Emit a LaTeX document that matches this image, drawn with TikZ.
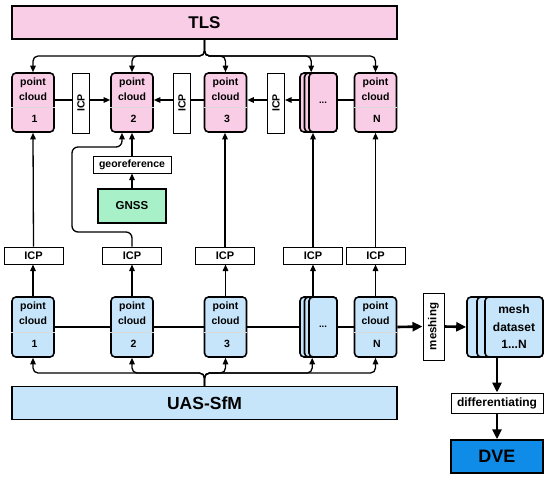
\documentclass[tikz,border=0pt]{standalone}
\usepackage{fontspec}
\setmainfont{Liberation Sans}
\usetikzlibrary{arrows.meta}
\definecolor{pcpink}{RGB}{249,205,230}
\definecolor{pcblue}{RGB}{199,229,250}
\definecolor{gnssgreen}{RGB}{168,240,200}
\definecolor{dveblue}{RGB}{14,140,232}
\tikzset{
  pcbox/.style={draw, line width=1.6pt, rounded corners=4pt, minimum width=42pt, minimum height=59pt, inner sep=0pt},
  stackbox/.style={draw, line width=1.6pt, rounded corners=4pt, minimum height=59pt, inner sep=0pt},
  pctext/.style={font=\fontsize{10.5}{15}\bfseries\selectfont, align=center, inner sep=0pt},
  divline/.style={draw=black!15, line width=1.2pt},
  icpv/.style={draw, line width=1pt, fill=white, minimum width=17pt, minimum height=60pt, inner sep=0pt},
  icph/.style={draw, line width=1pt, fill=white, minimum width=59pt, minimum height=17pt, inner sep=0pt, font=\fontsize{11}{12}\bfseries\selectfont},
  bigbox/.style={draw, line width=1.5pt, minimum width=385pt, minimum height=33pt, inner sep=0pt, font=\fontsize{17}{20}\bfseries\selectfont},
  conn/.style={line width=1.3pt},
  arr/.style={line width=1.3pt, -{Triangle[length=6.5pt,width=5.5pt]}},
  thickline/.style={line width=2.6pt},
  thickarr/.style={line width=2.6pt, -{Triangle[length=10pt,width=9pt]}}
}
\begin{document}
\begin{tikzpicture}[x=1pt,y=-1pt]
\useasboundingbox (0,0) rectangle (550,483);

% ---------- TLS ----------
\node[bigbox, fill=pcpink] (tls) at (204.5,22.5) {TLS};

% ---------- top row ----------
\foreach \n/\x/\lab in {T1/33/1, T2/132/2, T3/225.5/3, TN/375.5/N} {
  \node[pcbox, fill=pcpink] (pc\n) at (\x,102.5) {};
  \draw[divline] ([yshift=-35pt]pc\n.north west) -- ([yshift=-35pt]pc\n.north east);
  \node[pctext] (pc\n txt) at ([yshift=-17pt]pc\n.north) {point\\cloud};
  \node[pctext] (pc\n num) at ([yshift=-47pt,xshift=1.5pt]pc\n.north) {\lab};
}
\node[stackbox, fill=pcpink, minimum width=37pt] (stTback) at (318.5,102.5) {};
\node[stackbox, fill=pcpink, minimum width=32.5pt] (stTmid) at (320.75,102.5) {};
\node[stackbox, fill=pcpink, minimum width=28pt, font=\bfseries\fontsize{9.5}{10}\selectfont] (stTfront) at (323,102.5) {...};

\node[icpv] (icpA) at (81,103) {};
\node[rotate=90, font=\fontsize{10.5}{12}\bfseries\selectfont, inner sep=0pt] (icpAtxt) at (icpA.center) {ICP};
\node[icpv] (icpB) at (182,103) {};
\node[rotate=90, font=\fontsize{10.5}{12}\bfseries\selectfont, inner sep=0pt] (icpBtxt) at (icpB.center) {ICP};
\node[icpv] (icpC) at (276,103) {};
\node[rotate=90, font=\fontsize{10.5}{12}\bfseries\selectfont, inner sep=0pt] (icpCtxt) at (icpC.center) {ICP};

\draw[conn] (pcT1.east |- 0,100) -- (icpA.west |- 0,100);
\draw[arr] (icpA.east |- 0,100) -- (pcT2.west |- 0,100);
\draw[arr] (icpB.west |- 0,100) -- (pcT2.east |- 0,100);
\draw[conn] (pcT3.west |- 0,100) -- (icpB.east |- 0,100);
\draw[arr] (icpC.west |- 0,100) -- (pcT3.east |- 0,100);
\draw[arr] (stTback.west |- 0,100) -- (icpC.east |- 0,100);
\draw[conn] (pcTN.west |- 0,100) -- (stTfront.east |- 0,100);

% TLS branches
\foreach \t in {pcT1, pcT2, pcT3, pcTN} {
  \draw[arr, rounded corners=5pt] (tls.south) -- (tls.south |- 0,56) -- (\t.north |- 0,56) -- (\t.north);
}
\draw[arr, rounded corners=5pt] (tls.south) -- (tls.south |- 0,56) -- ([xshift=3pt]stTfront.north west |- 0,56) -- ([xshift=3pt]stTfront.north west);

% ---------- georeference / GNSS ----------
\node[draw, line width=1pt, fill=white, minimum width=78pt, minimum height=17pt, inner sep=0pt, font=\fontsize{10.5}{12}\bfseries\selectfont] (geo) at (132,164.5) {georeference};
\node[draw, line width=1.5pt, fill=gnssgreen, minimum width=68pt, minimum height=34pt, inner sep=0pt, font=\fontsize{11.5}{13}\bfseries\selectfont] (gnss) at (132,206) {GNSS};
\draw[arr] (gnss.north) -- (geo.south);
\draw[arr] (geo.north) -- (pcT2.south);

% ---------- middle ICP row ----------
\node[icph] (icp1) at (33.5,255.5) {ICP};
\node[icph] (icp2) at (132,255.5) {ICP};
\node[icph] (icp3) at (225,255.5) {ICP};
\node[icph] (icp4) at (313,255.5) {ICP};
\node[icph] (icp5) at (375.5,255.5) {ICP};

\draw[arr] (icp1.north) -- (pcT1.south);
\draw[arr, rounded corners=6pt] (icp2.north) -- (icp2.north |- 0,232) -- (72,232) -- (72,147) -- ([xshift=-10pt]pcT2.south |- 0,147) -- ([xshift=-10pt]pcT2.south);
\draw[arr] (icp3.north) -- (pcT3.south -| icp3.north);
\draw[arr] (icp4.north) -- (icp4.north |- stTfront.south);
\draw[arr] (icp5.north) -- (pcTN.south -| icp5.north);

% ---------- bottom row ----------
\foreach \n/\x/\lab in {B1/33/1, B2/132/2, B3/225.5/3, BN/375.5/N} {
  \node[pcbox, fill=pcblue, minimum height=60pt] (pc\n) at (\x,327) {};
  \draw[divline] ([yshift=-36pt]pc\n.north west) -- ([yshift=-36pt]pc\n.north east);
  \node[pctext] (pc\n txt) at ([yshift=-17.5pt]pc\n.north) {point\\cloud};
  \node[pctext] (pc\n num) at ([yshift=-48pt,xshift=1.5pt]pc\n.north) {\lab};
}
\node[stackbox, fill=pcblue, minimum height=60pt, minimum width=37pt] (stBback) at (318.5,327) {};
\node[stackbox, fill=pcblue, minimum height=60pt, minimum width=32.5pt] (stBmid) at (320.75,327) {};
\node[stackbox, fill=pcblue, minimum height=60pt, minimum width=28pt, font=\bfseries\fontsize{9.5}{10}\selectfont] (stBfront) at (323,327) {...};

\draw[arr] (pcB1.north) -- (icp1.south -| pcB1.north);
\draw[arr] (pcB2.north) -- (icp2.south);
\draw[arr] (pcB3.north) -- (icp3.south -| pcB3.north);
\draw[arr] (icp4.south |- stBfront.north) -- (icp4.south);
\draw[arr] (pcBN.north) -- (icp5.south -| pcBN.north);

\draw[thickline] (pcB1.east) -- (pcB2.west);
\draw[thickline] (pcB2.east) -- (pcB3.west);
\draw[thickline] (pcB3.east) -- (stBback.west);
\draw[thickline] (stBfront.east) -- (pcBN.west);

% UAS-SfM
\node[bigbox, fill=pcblue, font=\fontsize{17.5}{20}\bfseries\selectfont] (uas) at (204.5,403) {UAS-SfM};
\foreach \t in {pcB1, pcB2, pcB3, pcBN} {
  \draw[arr, rounded corners=5pt] (uas.north) -- (uas.north |- 0,373) -- (\t.south |- 0,373) -- (\t.south);
}
\draw[arr, rounded corners=5pt] (uas.north) -- (uas.north |- 0,373) -- ([xshift=4pt]stBfront.south west |- 0,373) -- ([xshift=4pt]stBfront.south west);

% ---------- meshing ----------
\node[draw, line width=1pt, fill=white, minimum width=21pt, minimum height=67pt, inner sep=0pt] (meshing) at (433.5,326.5) {};
\node[rotate=90, font=\fontsize{11.5}{13}\bfseries\selectfont, inner sep=0pt] (meshingtxt) at (meshing.center) {meshing};
\draw[thickarr] (pcBN.east) -- (meshing.west);

\node[stackbox, fill=pcblue, minimum height=60pt, minimum width=76pt] (mback) at (505,327) {};
\node[stackbox, fill=pcblue, minimum height=60pt, minimum width=66pt] (mmid) at (510,327) {};
\node[stackbox, fill=pcblue, minimum height=60pt, minimum width=58pt, align=center, font=\fontsize{12}{17.5}\bfseries\selectfont] (mfront) at (514,327) {mesh\\dataset\\1...N};
\draw[thickarr] (meshing.east) -- (mback.west);

\node[draw, line width=1pt, fill=white, minimum width=92pt, minimum height=20pt, inner sep=0pt, font=\fontsize{12}{13}\bfseries\selectfont] (diff) at (497,403) {differentiating};
\node[draw, line width=1.5pt, fill=dveblue, minimum width=92pt, minimum height=33pt, inner sep=0pt, font=\fontsize{18}{20}\bfseries\selectfont] (dve) at (497,456.5) {DVE};
\draw[thickarr] (diff.north |- mback.south) -- (diff.north);
\draw[thickarr] (diff.south) -- (dve.north);
\end{tikzpicture}
\end{document}
